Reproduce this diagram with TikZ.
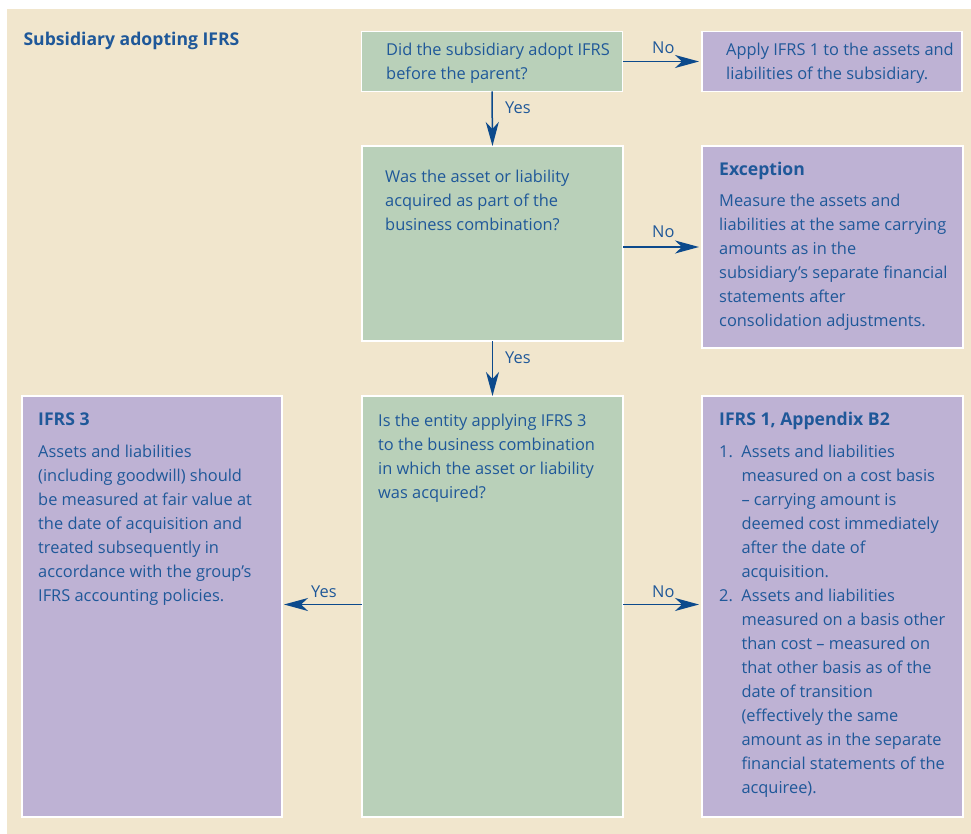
\documentclass[tikz,border=0pt]{standalone}
\usepackage{fontspec}
\setmainfont{Open Sans}
\usetikzlibrary{arrows.meta,calc}

\definecolor{paper}{HTML}{F1E6CD}
\definecolor{qgreen}{HTML}{B9D0B9}
\definecolor{apurple}{HTML}{BEB2D4}
\definecolor{inkblue}{HTML}{1F5899}
\definecolor{arrowblue}{HTML}{0C4A8C}

\newcommand{\bodyfont}{\fontsize{16.4}{24}\selectfont}
\newcommand{\headfont}{\fontsize{17.6}{24}\selectfont\bfseries}
\newcommand{\numitem}[1]{\makebox[22.3pt][l]{#1}}
\newcommand{\hang}{\hspace*{22.3pt}}

\begin{document}
% multi-line texts are placed by the baseline of their last line
\begin{tikzpicture}[x=1pt,y=-1pt,
  box/.style={draw=white, line width=1.6pt, anchor=north west, inner sep=0pt, outer sep=0pt},
  qbox/.style={box, fill=qgreen},
  abox/.style={box, fill=apurple},
  txt/.style={anchor=base west, inner sep=0pt, align=left, text=inkblue, font=\bodyfont},
  hd/.style={anchor=base west, inner sep=0pt, text=inkblue, font=\headfont},
  lbl/.style={anchor=base west, inner sep=0pt, text=inkblue, font=\bodyfont},
  arr/.style={draw=arrowblue, line width=1.5pt, -{Stealth[length=24pt,width=13pt,inset=7pt]}},
]
\useasboundingbox (0,0) rectangle (971,834);
\fill[paper] (7,9) rectangle (971,834);

% boxes: questions (green) and outcomes (purple)
\node[qbox, minimum width=261pt, minimum height=60pt]  (q1)    at (361.5,31.5) {};
\node[abox, minimum width=260pt, minimum height=60pt]  (r1)    at (702,31.5) {};
\node[qbox, minimum width=261pt, minimum height=195pt] (q2)    at (362,146) {};
\node[abox, minimum width=261pt, minimum height=202pt] (exc)   at (702,146) {};
\node[qbox, minimum width=261pt, minimum height=421pt] (q3)    at (362,396) {};
\node[abox, minimum width=260pt, minimum height=421pt] (ifrs3) at (22,396) {};
\node[abox, minimum width=261pt, minimum height=421pt] (ifrs1) at (702,396) {};

% heading
\node[hd] (title) at (23.3,45.7) {Subsidiary adopting IFRS};

% box texts
\node[txt] (t1) at (386,80) {Did the subsidiary adopt IFRS\\before the parent?};
\node[txt] (t2) at (726,80) {Apply IFRS 1 to the assets and\\liabilities of the subsidiary.};
\node[txt] (t3) at (385,231) {Was the asset or liability\\acquired as part of the\\business combination?};

\node[hd]  (exch) at (719,176) {Exception};
\node[txt] (excb) at (719,326.7) {Measure the assets and\\liabilities at the same carrying\\amounts as in the\\subsidiary’s separate financial\\statements after\\consolidation adjustments.};

\node[txt] (t5) at (378,498.7) {Is the entity applying IFRS 3\\to the business combination\\in which the asset or liability\\was acquired?};

\node[hd]  (i3h) at (38,425) {IFRS 3};
\node[txt] (i3b) at (38,601.3) {Assets and liabilities\\(including goodwill) should\\be measured at fair value at\\the date of acquisition and\\treated subsequently in\\accordance with the group’s\\IFRS accounting policies.};

\node[hd]  (i1h) at (719,425) {IFRS 1, Appendix B2};
\node[txt] (i1b) at (719,793) {\numitem{1.}Assets and liabilities\\\hang measured on a cost basis\\\hang – carrying amount is\\\hang deemed cost immediately\\\hang after the date of\\\hang acquisition.\\\numitem{2.}Assets and liabilities\\\hang measured on a basis other\\\hang than cost – measured on\\\hang that other basis as of the\\\hang date of transition\\\hang (effectively the same\\\hang amount as in the separate\\\hang financial statements of the\\\hang acquiree).};

% connectors
\draw[arr, shorten >=3pt] (q1.east) -- (r1.west);
\draw[arr] (q1.south) -- (q2.north);
\draw[arr, shorten >=3pt] (q2.east |- exc.west) -- (exc.west);
\draw[arr] (q2.south) -- (q3.north);
\draw[arr, shorten >=3pt] ([yshift=2pt]q3.east) -- ([yshift=2pt]q3.east -| ifrs1.west);
\draw[arr, shorten >=2pt] ([yshift=2pt]q3.west) -- ([yshift=2pt]q3.west -| ifrs3.east);

% connector labels
\node[lbl] (no1)  at (652,53.5) {No};
\node[lbl] (yes1) at (505,114)  {Yes};
\node[lbl] (no2)  at (652,237)  {No};
\node[lbl] (yes2) at (505,363)  {Yes};
\node[lbl] (no3)  at (652,597)  {No};
\node[lbl] (yes3) at (311,597)  {Yes};
\end{tikzpicture}
\end{document}
